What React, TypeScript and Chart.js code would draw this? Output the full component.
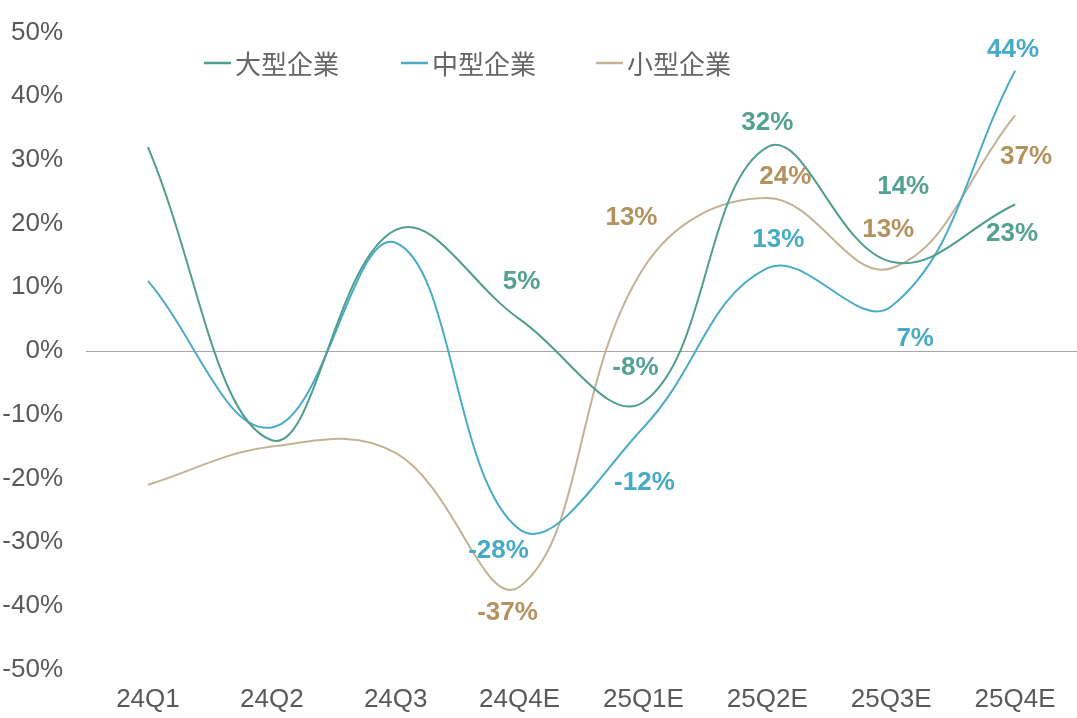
import React, { useEffect, useRef } from "react";
import { Chart, registerables } from "chart.js";

Chart.register(...registerables);

// ---- data ----
const categories = ["24Q1", "24Q2", "24Q3", "24Q4E", "25Q1E", "25Q2E", "25Q3E", "25Q4E"];
const seriesNames = ["大型企業", "中型企業", "小型企業"];
const largeValues = [32, -14, 19, 5, -8, 32, 14, 23];
const mediumValues = [11, -12, 17, -28, -12, 13, 7, 44];
const smallValues = [-21, -15, -16, -37, 13, 24, 13, 37];
const yMin = -50;
const yMax = 50;
const yStep = 10;

// ---- styles ----
const lineColors = ["#4f9e8f", "#4aacc6", "#c2b394"];
const labelColors = ["#52a193", "#47abc5", "#b3925f"];
const tickColor = "#595959";

// label offsets (dx, dy) relative to point, null = no label
const labelOffsets: (null | [number, number])[][] = [
  [null, null, null, [2, -37], [-8, -34], [0, -24], [12, -75], [-3, 29]],
  [null, null, null, [-21, 21], [1, 55], [11, -28], [24, 32], [-2, -21]],
  [null, null, null, [-12, 26], [-12, -50], [18, -21], [-3, -38], [11, 42]],
];
const legendX = [204, 401, 596];
const legendY = 63;

const dataLabelPlugin = {
  id: "dataLabelPlugin",
  afterDatasetsDraw(chart: any) {
    const ctx = chart.ctx;
    ctx.save();
    ctx.font = "bold 26px 'Liberation Sans', Arial, sans-serif";
    ctx.textAlign = "center";
    ctx.textBaseline = "middle";
    chart.data.datasets.forEach((ds: any, di: number) => {
      const meta = chart.getDatasetMeta(di);
      meta.data.forEach((el: any, i: number) => {
        const off = labelOffsets[di][i];
        if (!off) return;
        ctx.fillStyle = labelColors[di];
        ctx.fillText(ds.data[i] + "%", el.x + off[0], el.y + off[1]);
      });
    });
    ctx.restore();
  },
};

const legendPlugin = {
  id: "customLegend",
  afterDraw(chart: any) {
    const ctx = chart.ctx;
    ctx.save();
    ctx.font = "26px 'Noto Sans CJK JP', 'Noto Sans CJK SC', sans-serif";
    ctx.textAlign = "left";
    ctx.textBaseline = "middle";
    seriesNames.forEach((name, i) => {
      const x = legendX[i];
      ctx.strokeStyle = lineColors[i];
      ctx.lineWidth = 2.5;
      ctx.beginPath();
      ctx.moveTo(x, legendY);
      ctx.lineTo(x + 27, legendY);
      ctx.stroke();
      ctx.fillStyle = "#666666";
      ctx.fillText(name, x + 31, legendY + 1);
    });
    ctx.restore();
  },
};

export default function App() {
  const ref = useRef<HTMLCanvasElement | null>(null);
  useEffect(() => {
    if (!ref.current) return;
    const values = [largeValues, mediumValues, smallValues];
    const chart = new Chart(ref.current, {
      type: "line",
      data: {
        labels: categories,
        datasets: seriesNames.map((name, i) => ({
          label: name,
          data: values[i],
          borderColor: lineColors[i],
          backgroundColor: lineColors[i],
          borderWidth: 2,
          pointRadius: 0,
          pointHoverRadius: 0,
          tension: 0.4,
          fill: false,
        })),
      },
      options: {
        animation: false,
        responsive: false,
        maintainAspectRatio: false,
        layout: { padding: { top: 32.5, left: 0, right: 0, bottom: 0 } },
        plugins: {
          legend: { display: false },
          tooltip: { enabled: false },
        },
        scales: {
          x: {
            offset: true,
            grid: { display: false, drawTicks: false, offset: true },
            border: { display: false },
            ticks: {
              color: tickColor,
              padding: 15,
              font: { family: "'Liberation Sans', Arial, sans-serif", size: 26 },
              maxRotation: 0,
              autoSkip: false,
            },
            afterFit(scale: any) {
              scale.height = 48.5;
            },
          },
          y: {
            min: yMin,
            max: yMax,
            grid: {
              drawTicks: false,
              color: (c: any) => (c.tick && c.tick.value === 0 ? "#a6a6a6" : "rgba(0,0,0,0)"),
              lineWidth: 1,
            },
            border: { display: false },
            ticks: {
              stepSize: yStep,
              color: tickColor,
              padding: 23,
              font: { family: "'Liberation Sans', Arial, sans-serif", size: 26 },
              callback: (v: any) => v + "%",
            },
            afterFit(scale: any) {
              scale.width = 86;
              scale.paddingTop = 0;
              scale.paddingBottom = 0;
            },
          },
        },
      },
      plugins: [dataLabelPlugin, legendPlugin],
    });
    return () => chart.destroy();
  }, []);

  return (
    <div style={{ position: "absolute", left: 0, top: 0, width: 1077, height: 718, background: "#fff" }}>
      <canvas ref={ref} width={1077} height={718} style={{ width: 1077, height: 718, display: "block" }} />
    </div>
  );
}
